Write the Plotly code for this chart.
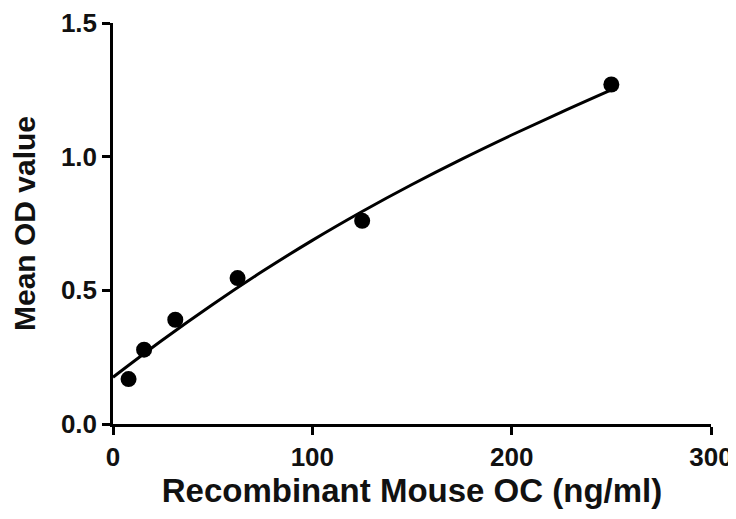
import plotly.graph_objects as go

# Measured standards
conc = [7.8, 15.6, 31.25, 62.5, 125, 250]
od = [0.168, 0.278, 0.39, 0.546, 0.76, 1.27]

# Fitted curve
curve_x = [0, 25, 50, 75, 100, 125, 150, 175, 200, 225, 250]
curve_y = [0.175, 0.315, 0.447, 0.571, 0.687, 0.795, 0.896, 0.991, 1.081, 1.167, 1.25]

x_ticks = [0, 100, 200, 300]
y_ticks = [0.0, 0.5, 1.0, 1.5]
y_tick_labels = ["0.0", "0.5", "1.0", "1.5"]

font_family = "Liberation Sans, Arial, sans-serif"

fig = go.Figure()
fig.add_trace(go.Scatter(x=curve_x, y=curve_y, mode="lines",
                         line=dict(color="black", width=3, shape="spline"),
                         showlegend=False, hoverinfo="skip"))
fig.add_trace(go.Scatter(x=conc, y=od, mode="markers",
                         marker=dict(color="black", size=16),
                         showlegend=False, cliponaxis=False))

# page body adds an offset of ~8px, so the figure is slightly smaller
fig.update_layout(
    width=728, height=509,
    margin=dict(l=105, r=25, t=15, b=93),
    plot_bgcolor="white", paper_bgcolor="white",
    font=dict(family=font_family, color="#111111"),
    xaxis=dict(range=[0, 300], tickvals=x_ticks, ticktext=[str(v) for v in x_ticks],
               automargin=False,
               showgrid=False, zeroline=False, showline=True, linecolor="black",
               linewidth=2.5, ticks="outside", ticklen=8, tickwidth=2.5, tickcolor="black",
               tickfont=dict(size=26, family=font_family, weight="bold"),
               title=dict(text="Recombinant Mouse OC (ng/ml)", standoff=7,
                          font=dict(size=33, family=font_family, weight="bold"))),
    yaxis=dict(range=[0, 1.5], tickvals=y_ticks, ticktext=y_tick_labels,
               automargin=False,
               showgrid=False, zeroline=False, showline=True, linecolor="black",
               linewidth=2.5, ticks="outside", ticklen=8, tickwidth=2.5, tickcolor="black",
               tickfont=dict(size=26, family=font_family, weight="bold"),
               title=dict(text="Mean OD value", standoff=18,
                          font=dict(size=30, family=font_family, weight="bold"))),
)

fig.write_html("out.html")
